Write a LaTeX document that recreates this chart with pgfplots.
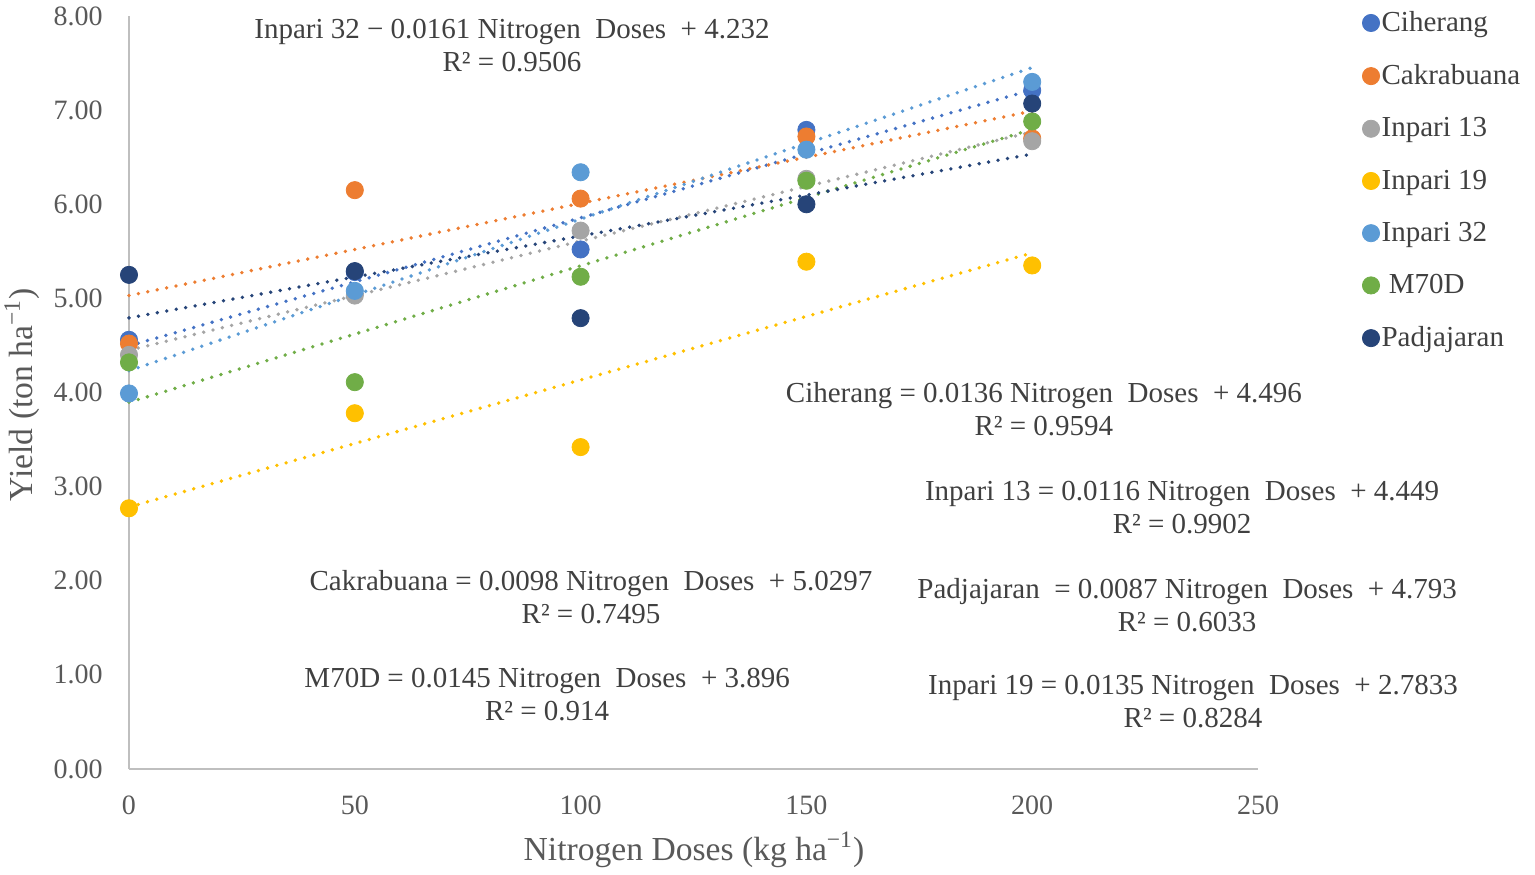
\documentclass[border=0pt]{standalone}
\usepackage{fontspec}
\setmainfont{Liberation Serif}
\usepackage{pgfplots}
\pgfplotsset{compat=1.18}
\definecolor{cCih}{HTML}{4472C4}
\definecolor{cCak}{HTML}{ED7D31}
\definecolor{cI13}{HTML}{A5A5A5}
\definecolor{cI19}{HTML}{FFC000}
\definecolor{cI32}{HTML}{5B9BD5}
\definecolor{cM70}{HTML}{70AD47}
\definecolor{cPad}{HTML}{264478}
\definecolor{axgray}{HTML}{BFBFBF}
\definecolor{lblgray}{HTML}{595959}
\definecolor{txtgray}{HTML}{404040}
\begin{document}
\begin{tikzpicture}
\begin{axis}[
  at={(0pt,0pt)}, anchor=south west,
  scale only axis, width=564.5pt, height=376.5pt,
  xmin=0, xmax=250, ymin=0, ymax=8,
  axis x line=bottom, axis y line=left,
  axis line style={draw=axgray, line width=1.2pt, -},
  xtick={0,50,100,150,200,250}, ytick={0,1,2,3,4,5,6,7,8},
  major tick length=0pt,
  /pgf/number format/assume math mode=true,
  tick label style={font=\fontsize{14}{16}\selectfont, text=lblgray},
  yticklabel style={anchor=east, inner sep=0pt, xshift=-13pt,
    /pgf/number format/.cd, fixed, fixed zerofill, precision=2},
  xticklabel style={anchor=center, yshift=-18pt},
  every axis x label/.style={at={(axis description cs:0.5004,-0.1076)}, anchor=center},
  every axis y label/.style={at={(axis description cs:-0.0948,0.497)}, rotate=90, anchor=center},
  label style={font=\fontsize{16.8}{18}\selectfont, text=lblgray},
  xlabel={Nitrogen Doses (kg ha\textsuperscript{−1})},
  ylabel={Yield (ton ha\textsuperscript{−1})},
  clip=false,
  legend style={at={(axis description cs:1.0868,1.0146)}, anchor=north west,
    draw=none, fill=none, font=\fontsize{14.5}{16}\selectfont, text=txtgray,
    row sep=13pt, nodes={inner sep=1pt}},
  legend cell align=left,
  legend image code/.code={\draw[#1] plot coordinates {(0pt,0pt)};},
  scatter mark/.style={only marks, mark=*, mark size=4.3pt, draw=#1, fill=#1},
  trend/.style={forget plot, draw=#1, line width=1.9pt, line cap=round, dash pattern=on 0pt off 4.8pt},
]
\addplot[scatter mark=cCih] coordinates {(0,4.56)(50,5.28)(100,5.52)(150,6.79)(200,7.21)};
\addlegendentry{Ciherang}
\addplot[scatter mark=cCak] coordinates {(0,4.52)(50,6.15)(100,6.06)(150,6.72)(200,6.70)};
\addlegendentry{Cakrabuana}
\addplot[scatter mark=cI13] coordinates {(0,4.40)(50,5.03)(100,5.72)(150,6.27)(200,6.67)};
\addlegendentry{Inpari 13}
\addplot[scatter mark=cI19] coordinates {(0,2.77)(50,3.78)(100,3.42)(150,5.39)(200,5.35)};
\addlegendentry{Inpari 19}
\addplot[scatter mark=cI32] coordinates {(0,3.99)(50,5.08)(100,6.34)(150,6.58)(200,7.30)};
\addlegendentry{Inpari 32}
\addplot[scatter mark=cM70] coordinates {(0,4.32)(50,4.11)(100,5.23)(150,6.25)(200,6.88)};
\addlegendentry{\ M70D}
\addplot[scatter mark=cPad] coordinates {(0,5.25)(50,5.29)(100,4.79)(150,6.00)(200,7.07)};
\addlegendentry{Padjajaran}
% trendlines
\addplot[trend=cCih] coordinates {(0,4.496)(200,7.216)};
\addplot[trend=cCak] coordinates {(0,5.0297)(200,6.9897)};
\addplot[trend=cI13] coordinates {(0,4.449)(200,6.769)};
\addplot[trend=cI19] coordinates {(0,2.7833)(200,5.4833)};
\addplot[trend=cI32] coordinates {(0,4.232)(200,7.452)};
\addplot[trend=cM70] coordinates {(0,3.896)(200,6.796)};
\addplot[trend=cPad] coordinates {(0,4.793)(200,6.533)};
% equations
\tikzset{eq/.style={align=center, anchor=center, text=txtgray, font=\fontsize{14.5}{16.5}\selectfont, inner sep=0pt}}
\node[eq] at (axis cs:84.8,7.686) {Inpari 32 − 0.0161 Nitrogen\ \ Doses\ \ + 4.232\\R² = 0.9506};
\node[eq] at (axis cs:202.6,3.82) {Ciherang = 0.0136 Nitrogen\ \ Doses\ \ + 4.496\\R² = 0.9594};
\node[eq] at (axis cs:233.2,2.778) {Inpari 13 = 0.0116 Nitrogen\ \ Doses\ \ + 4.449\\R² = 0.9902};
\node[eq] at (axis cs:102.3,1.822) {Cakrabuana = 0.0098 Nitrogen\ \ Doses\ \ + 5.0297\\R² = 0.7495};
\node[eq] at (axis cs:234.3,1.737) {Padjajaran\ \ = 0.0087 Nitrogen\ \ Doses\ \ + 4.793\\R² = 0.6033};
\node[eq] at (axis cs:92.6,0.787) {M70D = 0.0145 Nitrogen\ \ Doses\ \ + 3.896\\R² = 0.914};
\node[eq] at (axis cs:235.6,0.717) {Inpari 19 = 0.0135 Nitrogen\ \ Doses\ \ + 2.7833\\R² = 0.8284};
\end{axis}
\pgfresetboundingbox
\useasboundingbox (-64.5pt,-52.5pt) rectangle (703pt,384.5pt);
\end{tikzpicture}
\end{document}
